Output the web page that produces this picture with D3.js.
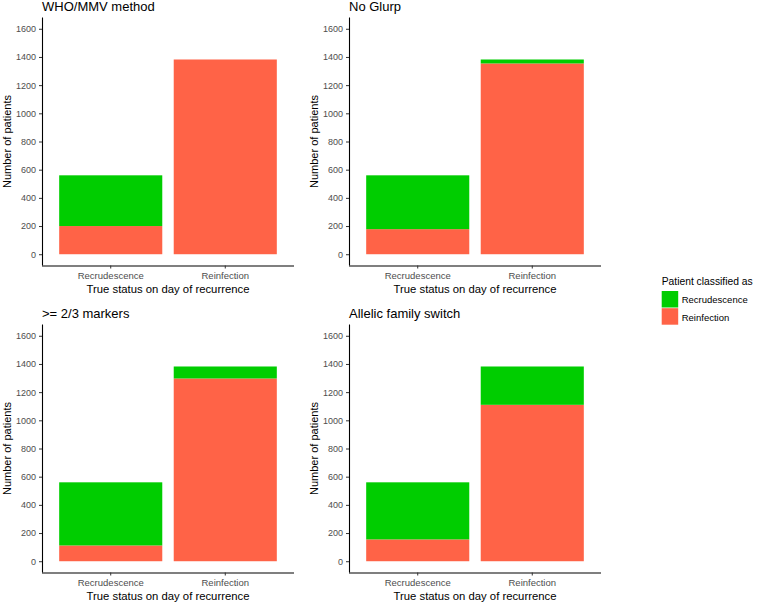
<!DOCTYPE html>
<html>
<head>
<meta charset="utf-8">
<script src="https://cdn.jsdelivr.net/npm/d3@7"></script>
<style>
  html, body { margin: 0; padding: 0; background: #fff; }
  svg { display: block; font-family: "Liberation Sans", Arial, sans-serif; }
</style>
</head>
<body>
<svg id="chart" width="760" height="604"></svg>
<script>
// ---- data ----
const categories = ["Recrudescence", "Reinfection"];           // true status (x axis)
const classes = ["Recrudescence", "Reinfection"];              // patient classified as
const panelTitles = ["WHO/MMV method", "No Glurp", ">= 2/3 markers", "Allelic family switch"];
// counts classified as Reinfection, per true-status category
const reinfectionCounts = [
  [200, 1382],
  [178, 1354],
  [112, 1297],
  [155, 1110]
];
// counts classified as Recrudescence, per true-status category
const recrudescenceCounts = [
  [360, 0],
  [382, 28],
  [448, 85],
  [405, 272]
];
const yTicks = [0, 200, 400, 600, 800, 1000, 1200, 1400, 1600];
const yTitle = "Number of patients";
const xTitle = "True status on day of recurrence";
const legendTitle = "Patient classified as";
const colors = { "Recrudescence": "#00CD00", "Reinfection": "#FF6347" };

// ---- layout ----
const svg = d3.select("#chart");
const pw = 252, ph = 248;
const origins = [[42, 17.5], [349, 17.5], [42, 324.5], [349, 324.5]];

const x = d3.scaleBand().domain(categories).range([0, pw]).paddingInner(0.1).paddingOuter(0.15);
const y = d3.scaleLinear().domain([-80, 1680]).range([ph, 0]);

panelTitles.forEach((title, i) => {
  const [ox, oy] = origins[i];
  const g = svg.append("g").attr("transform", `translate(${ox},${oy})`);

  // stacked data: Reinfection at bottom, Recrudescence on top
  const rows = categories.map((c, j) => ({
    cat: c,
    Reinfection: reinfectionCounts[i][j],
    Recrudescence: recrudescenceCounts[i][j]
  }));
  const stack = d3.stack().keys(["Reinfection", "Recrudescence"])(rows);

  stack.forEach(layer => {
    g.selectAll(null).data(layer).enter().append("rect")
      .attr("x", d => x(d.data.cat))
      .attr("width", x.bandwidth())
      .attr("y", d => y(d[1]))
      .attr("height", d => Math.max(0, y(d[0]) - y(d[1])))
      .attr("fill", colors[layer.key]);
  });

  // y axis
  const ya = g.append("g").call(d3.axisLeft(y).tickValues(yTicks).tickFormat(d3.format("d"))
    .tickSize(3).tickPadding(3));
  ya.select(".domain").attr("stroke", "#000").attr("stroke-width", 1.1).attr("d", `M0.5,0V${ph}`);
  ya.selectAll(".tick line").attr("stroke", "#333");
  ya.selectAll(".tick text").attr("fill", "#4D4D4D").style("font-size", "9px")
    .style("font-family", "'Liberation Sans', Arial, sans-serif");

  // x axis
  const xa = g.append("g").attr("transform", `translate(0,${ph})`)
    .call(d3.axisBottom(x).tickSize(3).tickPadding(4));
  xa.select(".domain").attr("stroke", "#000").attr("stroke-width", 1.1).attr("d", `M0,0.5H${pw}`);
  xa.selectAll(".tick line").attr("stroke", "#333");
  xa.selectAll(".tick text").attr("fill", "#4D4D4D").style("font-size", "9.5px")
    .style("font-family", "'Liberation Sans', Arial, sans-serif");

  // panel title
  g.append("text").attr("x", 0).attr("y", -7)
    .attr("fill", "#000").style("font-size", "13px").text(title);

  // axis titles
  g.append("text")
    .attr("transform", `translate(${-31},${ph / 2}) rotate(-90)`)
    .attr("text-anchor", "middle").attr("fill", "#000").style("font-size", "11px")
    .text(yTitle);
  g.append("text").attr("x", pw / 2).attr("y", ph + 27.5)
    .attr("text-anchor", "middle").attr("fill", "#000").style("font-size", "11.3px")
    .text(xTitle);
});

// ---- legend ----
const lg = svg.append("g").attr("transform", "translate(661.7,285)");
lg.append("text").attr("x", 0).attr("y", 0).attr("fill", "#000")
  .style("font-size", "10.3px").text(legendTitle);
classes.forEach((c, k) => {
  lg.append("rect").attr("x", 0).attr("y", 6 + k * 17.2).attr("width", 16.5).attr("height", 16.5)
    .attr("fill", colors[c]);
  lg.append("text").attr("x", 20).attr("y", 18 + k * 17.6).attr("fill", "#000")
    .style("font-size", "9.5px").text(c);
});
</script>
</body>
</html>
